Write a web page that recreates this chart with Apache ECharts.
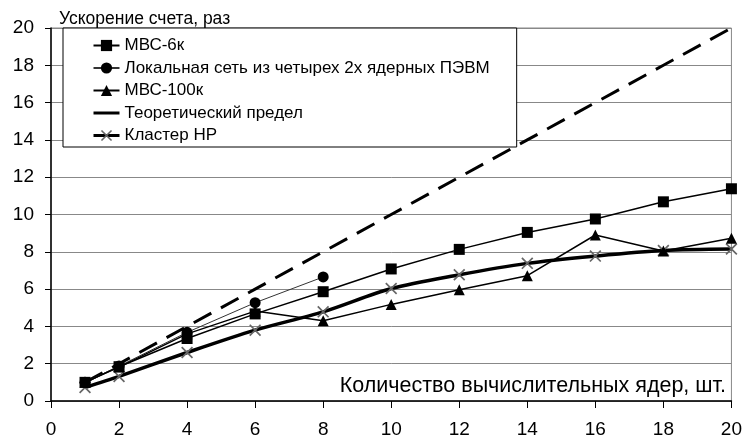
<!DOCTYPE html>
<html>
<head>
<meta charset="utf-8">
<script src="https://cdn.jsdelivr.net/npm/echarts@6/dist/echarts.min.js"></script>
<style>
  html, body { margin: 0; padding: 0; background: #fff; }
  #chart { width: 745px; height: 441px; }
</style>
</head>
<body>
<div id="chart"></div>
<script>
var seriesNames = ['МВС-6к', 'Локальная сеть из четырех 2х ядерных ПЭВМ', 'МВС-100к', 'Теоретический предел', 'Кластер HP'];
var cores = [1, 2, 4, 6, 8, 10, 12, 14, 16, 18, 20];
var mvs6k = [1.0, 1.84, 3.35, 4.67, 5.86, 7.08, 8.13, 9.04, 9.76, 10.68, 11.38];
var localNet = [1.0, 1.87, 3.68, 5.27, 6.65];
var mvs100k = [1.0, 1.82, 3.6, 4.82, 4.3, 5.18, 5.97, 6.72, 8.9, 8.04, 8.73];
var theory = [1, 2, 4, 6, 8, 10, 12, 14, 16, 18, 20];
var clusterHP = [0.72, 1.32, 2.6, 3.8, 4.78, 6.03, 6.77, 7.38, 7.77, 8.07, 8.15];

var xTicks = { min: 0, max: 20, interval: 2 };
var yTicks = { min: 0, max: 20, interval: 2 };

function pairs(xs, ys) {
    var out = [];
    for (var i = 0; i < ys.length; i++) out.push([xs[i], ys[i]]);
    return out;
}

// thin "x" marker, like the Excel one
var crossSymbol = 'path://M0,1L1,0L10,9L9,10Z M9,0L10,1L1,10L0,9Z';
var font = 'Arial, "Liberation Sans", sans-serif';

var myChart = echarts.init(document.getElementById('chart'));
myChart.setOption({
    animation: false,
    backgroundColor: '#fff',
    title: [
        { text: 'Ускорение счета, раз', left: 54, top: 5,
          textStyle: { fontSize: 17.5, fontWeight: 'normal', color: '#000', fontFamily: font } },
        { text: 'Количество вычислительных ядер, шт.', right: 14, top: 370,
          textStyle: { fontSize: 21.5, fontWeight: 'normal', color: '#000', fontFamily: font } }
    ],
    grid: { left: 51, right: 12, top: 28, bottom: 40, show: true, borderColor: '#888', borderWidth: 1 },
    legend: {
        orient: 'vertical',
        left: 63, top: 28,
        padding: [9, 27, 3, 29],
        itemWidth: 26, itemHeight: 14, itemGap: 5.5,
        backgroundColor: '#fff',
        borderColor: '#000', borderWidth: 1,
        textStyle: { fontSize: 17, color: '#000', fontFamily: font },
        data: [
            { name: seriesNames[0] },
            { name: seriesNames[1] },
            { name: seriesNames[2] },
            { name: seriesNames[3], lineStyle: { type: 'solid', width: 3 }, itemStyle: { opacity: 0 } },
            { name: seriesNames[4], lineStyle: { width: 3 } }
        ]
    },
    xAxis: {
        type: 'value', min: xTicks.min, max: xTicks.max, interval: xTicks.interval,
        axisLine: { lineStyle: { color: '#000', width: 1.5 } },
        axisTick: { length: 7, lineStyle: { color: '#000' } },
        axisLabel: { fontSize: 19, color: '#000', margin: 19, fontFamily: font },
        splitLine: { show: false }
    },
    yAxis: {
        type: 'value', min: yTicks.min, max: yTicks.max, interval: yTicks.interval,
        axisLine: { show: true, lineStyle: { color: '#000', width: 1.5 } },
        axisTick: { show: true, length: 6, lineStyle: { color: '#000' } },
        axisLabel: { fontSize: 19, color: '#000', margin: 17, fontFamily: font },
        splitLine: { lineStyle: { color: '#888', width: 1 } }
    },
    series: [
        {
            name: seriesNames[0], type: 'line', data: pairs(cores, mvs6k),
            symbol: 'rect', symbolSize: 11, z: 5,
            itemStyle: { color: '#000' }, lineStyle: { color: '#000', width: 1.5 }
        },
        {
            name: seriesNames[1], type: 'line', data: pairs(cores, localNet),
            symbol: 'circle', symbolSize: 11, z: 5,
            itemStyle: { color: '#000' }, lineStyle: { color: '#333', width: 1 }
        },
        {
            name: seriesNames[2], type: 'line', data: pairs(cores, mvs100k),
            symbol: 'triangle', symbolSize: 11, z: 5,
            itemStyle: { color: '#000' }, lineStyle: { color: '#000', width: 1.5 }
        },
        {
            name: seriesNames[3], type: 'line', data: pairs(cores, theory),
            symbol: 'none', z: 3,
            itemStyle: { color: '#000' },
            lineStyle: { color: '#000', width: 3, type: [20, 11] }
        },
        {
            name: seriesNames[4], type: 'line', data: pairs(cores, clusterHP),
            symbol: crossSymbol, symbolSize: 12, smooth: 0.3, z: 4,
            itemStyle: { color: '#666' }, lineStyle: { color: '#000', width: 3.5 }
        }
    ]
});
</script>
</body>
</html>
